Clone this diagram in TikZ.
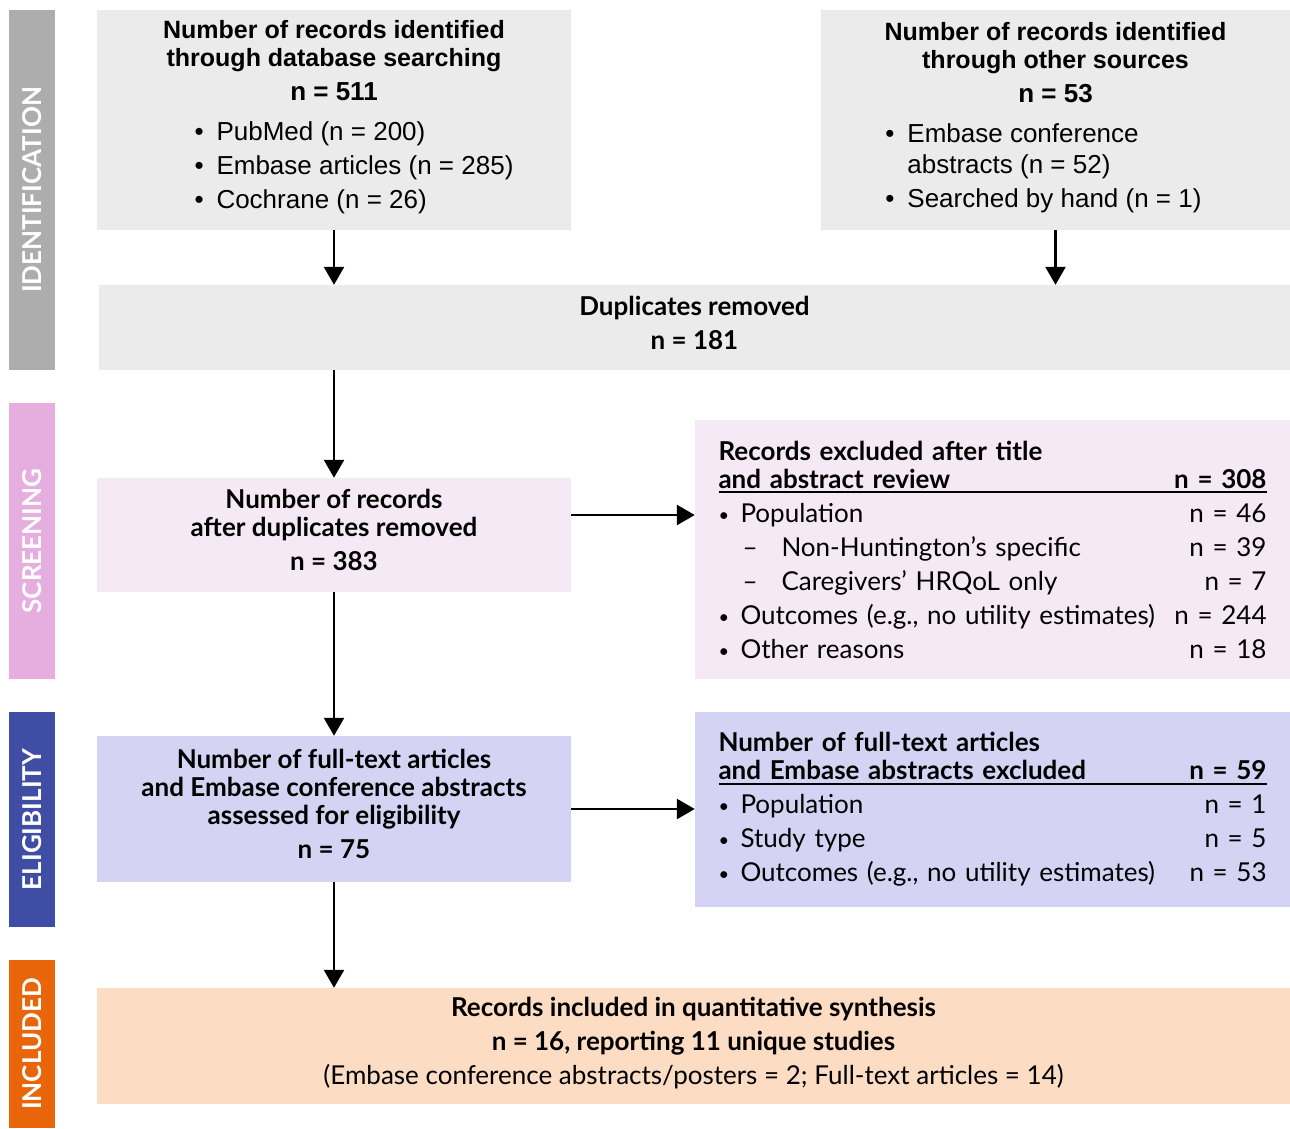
\documentclass[tikz,border=0pt]{standalone}
\usepackage{fontspec}
\setmainfont{Lato}
\newfontfamily\arialfont{Liberation Sans}
\usetikzlibrary{arrows.meta,positioning,calc}
\definecolor{idbar}{HTML}{ADADAD}
\definecolor{idfill}{HTML}{EBEBEB}
\definecolor{scrbar}{HTML}{E5AEDF}
\definecolor{scrfill}{HTML}{F6E9F6}
\definecolor{elbar}{HTML}{3F4DA5}
\definecolor{elfill}{HTML}{D4D3F3}
\definecolor{incbar}{HTML}{E8650A}
\definecolor{incfill}{HTML}{FCDDC4}
\newcommand{\bul}{\makebox[22pt][l]{\raisebox{1pt}{\scalebox{0.7}{•}}}}
\newcommand{\topbul}{\makebox[22pt][l]{•}}
\newcommand{\dsh}{\makebox[63pt][l]{\hspace*{24pt}–}}
\newcommand{\ulrow}[2]{\leavevmode\rlap{\rule[-5pt]{\linewidth}{1.8pt}}#1\hfill#2}
\tikzset{
  box/.style={rectangle, inner sep=0pt, align=center,
    font=\fontsize{26}{34}\selectfont},
  listbox/.style={rectangle, inner xsep=21pt, inner ysep=0pt, align=left,
    text width=548pt, minimum width=595pt, font=\fontsize{26}{34}\selectfont},
  topbox/.style={box, fill=idfill, minimum width=474pt, minimum height=220pt,
    font=\arialfont\fontsize{26}{34}\selectfont},
  bar/.style={rectangle, inner sep=0pt, minimum height=46pt, rotate=90,
    text=white, font=\bfseries\fontsize{26}{28}\selectfont},
  arr/.style={line width=2.5pt, -{Triangle[width=20pt,length=18pt]}}
}
\begin{document}
\begin{tikzpicture}[x=1pt,y=-1pt]
\useasboundingbox (0,0) rectangle (1290,1128);
%Stage bars
\node[bar, fill=idbar, minimum width=360pt] (idstage) at (32,190) {IDENTIFICATION};
\node[bar, fill=scrbar, minimum width=276pt] (scrstage) at (32,541) {SCREENING};
\node[bar, fill=elbar, minimum width=215pt] (elstage) at (32,819.5) {ELIGIBILITY};
\node[bar, fill=incbar, minimum width=168pt] (incstage) at (32,1044) {INCLUDED};
%Identification
\node[topbox] (dbsearch) at (334,120) {%
  {\fontsize{25}{34}\selectfont\bfseries Number of records identified}\\[-6pt]
  {\fontsize{25}{34}\selectfont\bfseries through database searching}\\
  \textbf{n = 511}\\[6pt]
  \hspace*{40pt}\begin{tabular}[t]{@{}l@{}}
  \topbul PubMed (n = 200)\\
  \topbul Embase articles (n = 285)\\
  \topbul Cochrane (n = 26)
  \end{tabular}};
\node[topbox, minimum width=469pt] (othersrc) at (1055.5,120) {%
  {\fontsize{25}{34}\selectfont\bfseries Number of records identified}\\[-6pt]
  {\fontsize{25}{34}\selectfont\bfseries through other sources}\\
  \textbf{n = 53}\\[6pt]
  \begin{tabular}[t]{@{}l@{}}
  \topbul Embase conference\\[-3pt]
  \hspace*{22pt}abstracts (n = 52)\\
  \topbul Searched by hand (n = 1)
  \end{tabular}\hspace*{24pt}};
\node[box, fill=idfill, minimum width=1191pt, minimum height=85pt] (dups) at (694.5,327.5)
  {\textbf{Duplicates removed}\\ \textbf{n = 181}\strut};
%Screening
\node[box, fill=scrfill, minimum width=474pt, minimum height=114pt] (records) at (334,535)
  {\textbf{Number of records}\\[-6pt] \textbf{after duplicates removed}\\ \textbf{n = 383}\strut};
\node[listbox, fill=scrfill, minimum height=259pt] (excl1) at (992.5,549.5) {%
  {\bfseries\baselineskip=28pt Records excluded after title\par
  \ulrow{and abstract review}{n = 308}\par}
  \bul Population\hfill n = 46\par
  \dsh Non-Huntington’s specific\hfill n = 39\par
  \dsh Caregivers’ HRQoL only\hfill n = 7\par
  \bul Outcomes (e.g., no utility estimates)\hfill n = 244\par
  \bul Other reasons\hfill n = 18};
%Eligibility
\node[box, fill=elfill, minimum width=474pt, minimum height=146pt] (assess) at (334,809) {%
  \textbf{Number of full-text articles}\\[-6pt]
  \textbf{and Embase conference abstracts}\\[-6pt]
  \textbf{assessed for eligibility}\\
  \textbf{n = 75}\strut};
\node[listbox, fill=elfill, minimum height=195pt] (excl2) at (992.5,809.5) {%
  {\bfseries\baselineskip=28pt Number of full-text articles\par
  \ulrow{and Embase abstracts excluded}{n = 59}\par}
  \bul Population\hfill n = 1\par
  \bul Study type\hfill n = 5\par
  \bul Outcomes (e.g., no utility estimates)\hfill n = 53};
%Included
\node[box, fill=incfill, minimum width=1193pt, minimum height=116pt] (synth) at (693.5,1046) {%
  \textbf{Records included in quantitative synthesis}\\
  \textbf{n = 16, reporting 11 unique studies}\\
  (Embase conference abstracts/posters = 2; Full-text articles = 14)\strut};
%Arrows
\draw[arr] (dbsearch.south) -- (dbsearch.south |- dups.north);
\draw[arr] (othersrc.south) -- (othersrc.south |- dups.north);
\draw[arr] (records.north |- dups.south) -- (records.north);
\coordinate (scrout) at ($(records.east)+(0,-20)$);
\draw[arr] (scrout) -- (scrout -| excl1.west);
\draw[arr] (records.south) -- (assess.north);
\draw[arr] (assess.east) -- (assess.east -| excl2.west);
\draw[arr] (assess.south) -- (assess.south |- synth.north);
\end{tikzpicture}
\end{document}
